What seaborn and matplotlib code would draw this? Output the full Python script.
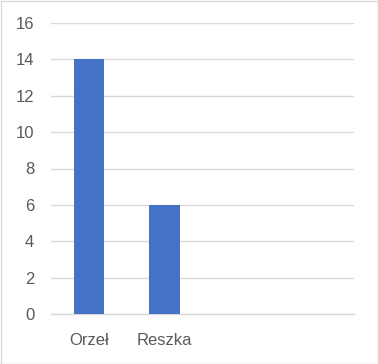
import matplotlib
matplotlib.use("Agg")
import matplotlib.pyplot as plt
import seaborn as sns
import pandas as pd
from matplotlib.patches import Rectangle

categories = ["Orzeł", "Reszka"]
values = [14, 6]
yticks = [0, 2, 4, 6, 8, 10, 12, 14, 16]

sns.set_theme(style="white")
plt.rcParams['font.family'] = ['Liberation Sans', 'DejaVu Sans']

fig = plt.figure(figsize=(3.78, 3.64), dpi=100)
ax = fig.add_axes([51/378, 1-314/364, 303/378, 291/364])

df = pd.DataFrame({"cat": categories, "val": values})
sns.barplot(data=df, x="cat", y="val", color="#4472C4", width=0.4, ax=ax,
            saturation=1, zorder=3)
for p in ax.patches:
    p.set_edgecolor("none")

ax.set_xlim(-0.5, 3.5)
ax.set_ylim(0, 16)
ax.set_yticks(yticks)
ax.set_yticklabels([str(t) for t in yticks])
ax.yaxis.grid(True, color="#d9d9d9", linewidth=1.0, zorder=0)
ax.set_axisbelow(True)
for s in ["left", "right", "top"]:
    ax.spines[s].set_visible(False)
ax.spines["bottom"].set_color("#d9d9d9")
ax.spines["bottom"].set_linewidth(1.0)
ax.set_xlabel("")
ax.set_ylabel("")
ax.tick_params(axis="both", length=0, labelsize=12, labelcolor="#595959")
ax.tick_params(axis="y", pad=12)
ax.tick_params(axis="x", pad=14)

fig.patches.append(Rectangle((0.5/378, 0.5/364), 1-1/378, 1-1/364, transform=fig.transFigure,
                             fill=False, edgecolor="#d9d9d9", linewidth=1.0))

fig.savefig("out.png", dpi=100)
